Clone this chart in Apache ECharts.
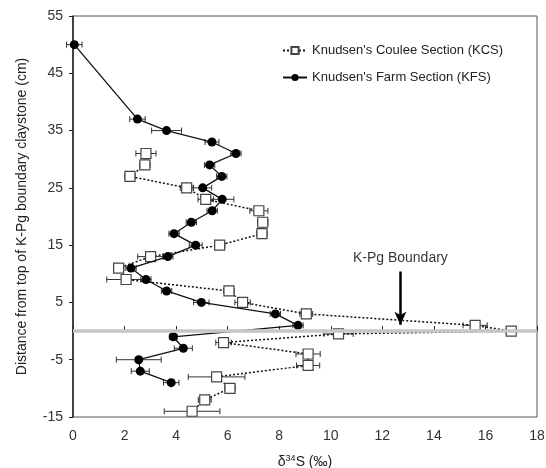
<!DOCTYPE html>
<html>
<head>
<meta charset="utf-8">
<title>d34S profile</title>
<script src="https://cdn.jsdelivr.net/npm/echarts@6/dist/echarts.min.js"></script>
<style>
  html, body { margin: 0; padding: 0; background: #fff; }
  #chart { width: 546px; height: 468px; }
</style>
</head>
<body>
<div id="chart"></div>
<script>
// Knudsen's Coulee Section (KCS)
const kcsDepth = [31, 29, 27, 25, 23, 21, 19, 17, 15, 13, 11, 9, 7, 5, 3, 1, 0, -0.5, -2, -4, -6, -8, -10, -12, -14]
const kcsD34S = [2.83, 2.79, 2.21, 4.41, 5.15, 7.21, 7.36, 7.33, 5.69, 3.01, 1.77, 2.06, 6.05, 6.58, 9.05, 15.6, 17.0, 10.3, 5.84, 9.12, 9.12, 5.57, 6.09, 5.11, 4.62]
const kcsErr = [0.39, 0.2, 0.2, 0.25, 0.3, 0.35, 0.2, 0.2, 0.2, 0.5, 0.2, 0.75, 0.2, 0.3, 0.25, 0.47, 0.2, 0.57, 0.3, 0.47, 0.45, 1.1, 0.2, 0.25, 1.08]

// Knudsen's Farm Section (KFS)
const kfsDepth = [50, 37, 35, 33, 31, 29, 27, 25, 23, 21, 19, 17, 15, 13, 11, 9, 7, 5, 3, 1, -1, -3, -5, -7, -9]
const kfsD34S = [0.05, 2.5, 3.63, 5.39, 6.32, 5.3, 5.77, 5.03, 5.79, 5.4, 4.59, 3.92, 4.76, 3.68, 2.25, 2.83, 3.63, 4.98, 7.85, 8.73, 3.89, 4.28, 2.55, 2.61, 3.81]
const kfsErr = [0.3, 0.3, 0.58, 0.27, 0.2, 0.2, 0.2, 0.35, 0.45, 0.2, 0.2, 0.2, 0.25, 0.2, 0.2, 0.2, 0.2, 0.3, 0.2, 0.2, 0.15, 0.35, 0.87, 0.35, 0.3]

// boundary annotation
const boundaryDepth = 0
const arrowX = 12.7
const arrowFrom = 10.4
const arrowTo = 1.1
const labelPos = [12.7, 12.7]

const xTicks = [0, 18, 2]
const yTicks = [-15, 55, 10]

const font = 'Liberation Sans, Arial, sans-serif'

function pairs(xs, ys) {
  return xs.map((x, i) => [x, ys[i]])
}

function errData(xs, ys, es) {
  return xs.map((x, i) => [x - es[i], x + es[i], ys[i]])
}

// horizontal error bar with little caps
function renderErr(params, api) {
  const y = api.value(2)
  const p1 = api.coord([api.value(0), y])
  const p2 = api.coord([api.value(1), y])
  const h = 3
  const style = { stroke: '#333', lineWidth: 1 }
  return {
    type: 'group',
    children: [
      { type: 'line', shape: { x1: p1[0], y1: p1[1], x2: p2[0], y2: p2[1] }, style: style },
      { type: 'line', shape: { x1: p1[0], y1: p1[1] - h, x2: p1[0], y2: p1[1] + h }, style: style },
      { type: 'line', shape: { x1: p2[0], y1: p2[1] - h, x2: p2[0], y2: p2[1] + h }, style: style }
    ]
  }
}

const chart = echarts.init(document.getElementById('chart'))
chart.setOption({
  animation: false,
  textStyle: { fontFamily: font },
  grid: {
    left: 73,
    right: 9,
    top: 16,
    bottom: 51,
    outerBoundsMode: 'none',
    containLabel: false,
    show: true,
    borderColor: '#555',
    borderWidth: 1
  },
  legend: {
    orient: 'vertical',
    left: 277,
    top: 39,
    itemWidth: 24,
    itemHeight: 9,
    itemGap: 14,
    textStyle: { fontSize: 13, color: '#222', fontFamily: font },
    data: ["Knudsen's Coulee Section (KCS)", "Knudsen's Farm Section (KFS)"]
  },
  xAxis: {
    type: 'value',
    min: xTicks[0],
    max: xTicks[1],
    interval: xTicks[2],
    name: '{a|δ}{s|34}{a|S (‰)}',
    nameLocation: 'middle',
    nameGap: 37,
    nameTextStyle: {
      rich: {
        a: { fontSize: 14, color: '#222', fontFamily: font, verticalAlign: 'bottom' },
        s: { fontSize: 9, color: '#222', fontFamily: font, verticalAlign: 'top', padding: [0, 0, 6, 0] }
      }
    },
    axisLine: { lineStyle: { color: '#222', width: 1.5 } },
    axisTick: { inside: true, length: 5, lineStyle: { color: '#222' } },
    axisLabel: { fontSize: 14, color: '#333', margin: 12 },
    splitLine: { show: false }
  },
  yAxis: {
    type: 'value',
    min: yTicks[0],
    max: yTicks[1],
    interval: yTicks[2],
    name: 'Distance from top of K-Pg boundary claystone (cm)',
    nameLocation: 'middle',
    nameGap: 44,
    nameTextStyle: { fontSize: 14, color: '#222' },
    axisLine: { lineStyle: { color: '#222', width: 1.5 } },
    axisTick: { length: 4, lineStyle: { color: '#222' } },
    axisLabel: { fontSize: 14, color: '#333', margin: 10 },
    splitLine: { show: false }
  },
  series: [
    {
      // boundary band + label
      type: 'scatter',
      z: 1,
      symbolSize: 0,
      data: [labelPos],
      label: {
        show: true,
        position: 'inside',
        formatter: 'K-Pg Boundary',
        fontSize: 14,
        color: '#000'
      },
      markLine: {
        silent: true,
        symbol: 'none',
        label: { show: false },
        lineStyle: { color: '#c6c6c6', width: 3.5, type: 'solid', opacity: 1 },
        data: [{ yAxis: boundaryDepth }]
      }
    },
    {
      // arrow pointing at the boundary
      type: 'scatter',
      z: 5,
      symbolSize: 0,
      data: [],
      markLine: {
        silent: true,
        symbol: ['none', 'arrow'],
        symbolSize: [9, 13],
        label: { show: false },
        lineStyle: { color: '#000', width: 2.5, type: 'solid', opacity: 1 },
        data: [[{ coord: [arrowX, arrowFrom] }, { coord: [arrowX, arrowTo] }]]
      }
    },
    {
      name: 'kcsErr',
      type: 'custom',
      z: 2,
      renderItem: renderErr,
      encode: { x: [0, 1], y: 2 },
      data: errData(kcsD34S, kcsDepth, kcsErr)
    },
    {
      name: 'kfsErr',
      type: 'custom',
      z: 2,
      renderItem: renderErr,
      encode: { x: [0, 1], y: 2 },
      data: errData(kfsD34S, kfsDepth, kfsErr)
    },
    {
      name: "Knudsen's Coulee Section (KCS)",
      type: 'line',
      z: 3,
      symbol: 'rect',
      symbolSize: 10,
      showAllSymbol: true,
      lineStyle: { color: '#111', width: 1.5, type: [2, 2] },
      itemStyle: { color: '#fff', borderColor: '#444', borderWidth: 1.2 },
      data: pairs(kcsD34S, kcsDepth)
    },
    {
      name: "Knudsen's Farm Section (KFS)",
      type: 'line',
      z: 4,
      symbol: 'circle',
      symbolSize: 9,
      showAllSymbol: true,
      lineStyle: { color: '#111', width: 1.3 },
      itemStyle: { color: '#000', borderColor: '#000', borderWidth: 0 },
      data: pairs(kfsD34S, kfsDepth)
    }
  ]
})
</script>
</body>
</html>
